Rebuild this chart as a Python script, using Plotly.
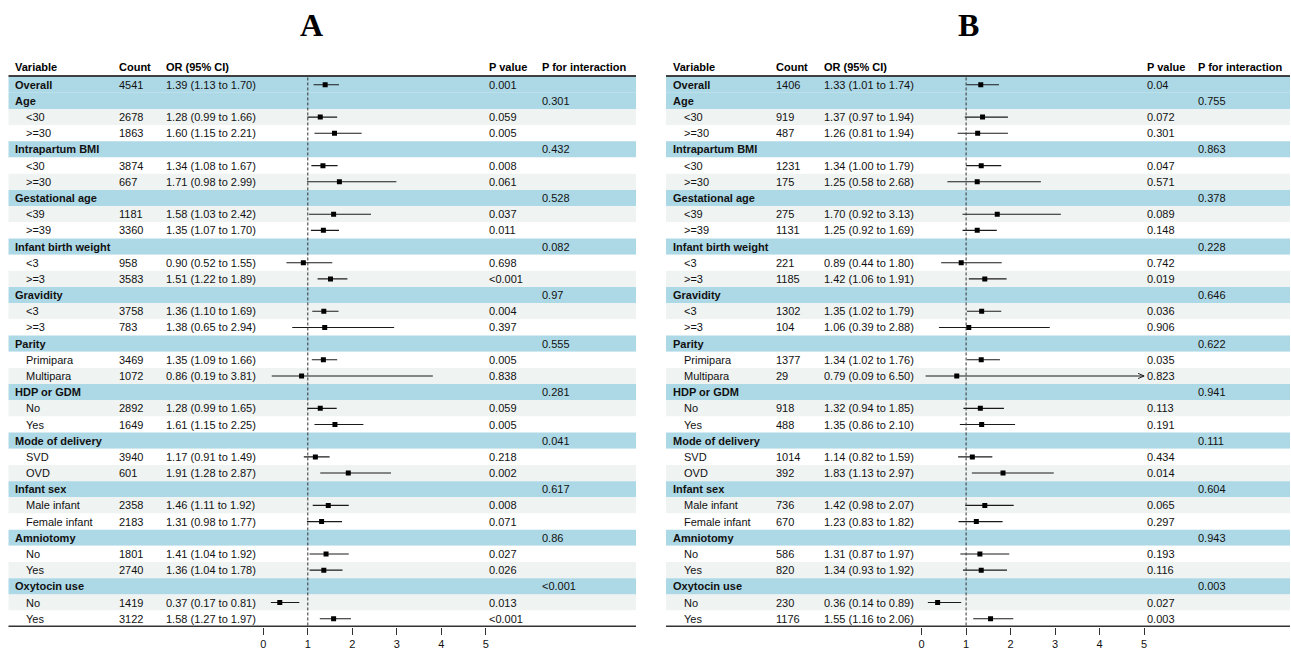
import plotly.graph_objects as go

W, H = 1291, 650

# ---------------- data ----------------
labels = ["Overall", "Age", "<30", ">=30", "Intrapartum BMI", "<30", ">=30",
          "Gestational age", "<39", ">=39", "Infant birth weight", "<3", ">=3",
          "Gravidity", "<3", ">=3", "Parity", "Primipara", "Multipara",
          "HDP or GDM", "No", "Yes", "Mode of delivery", "SVD", "OVD",
          "Infant sex", "Male infant", "Female infant", "Amniotomy", "No", "Yes",
          "Oxytocin use", "No", "Yes"]
group_rows = [0, 1, 4, 7, 10, 13, 16, 19, 22, 25, 28, 31]
headers = ["Variable", "Count", "OR (95% CI)", "P value", "P for interaction"]
tick_vals = [0, 1, 2, 3, 4, 5]
panel_titles = ["A", "B"]

count_A = [4541, None, 2678, 1863, None, 3874, 667, None, 1181, 3360, None, 958, 3583,
           None, 3758, 783, None, 3469, 1072, None, 2892, 1649, None, 3940, 601,
           None, 2358, 2183, None, 1801, 2740, None, 1419, 3122]
or_A = [1.39, None, 1.28, 1.60, None, 1.34, 1.71, None, 1.58, 1.35, None, 0.90, 1.51,
        None, 1.36, 1.38, None, 1.35, 0.86, None, 1.28, 1.61, None, 1.17, 1.91,
        None, 1.46, 1.31, None, 1.41, 1.36, None, 0.37, 1.58]
lo_A = [1.13, None, 0.99, 1.15, None, 1.08, 0.98, None, 1.03, 1.07, None, 0.52, 1.22,
        None, 1.10, 0.65, None, 1.09, 0.19, None, 0.99, 1.15, None, 0.91, 1.28,
        None, 1.11, 0.98, None, 1.04, 1.04, None, 0.17, 1.27]
hi_A = [1.70, None, 1.66, 2.21, None, 1.67, 2.99, None, 2.42, 1.70, None, 1.55, 1.89,
        None, 1.69, 2.94, None, 1.66, 3.81, None, 1.65, 2.25, None, 1.49, 2.87,
        None, 1.92, 1.77, None, 1.92, 1.78, None, 0.81, 1.97]
p_A = ["0.001", "", "0.059", "0.005", "", "0.008", "0.061", "", "0.037", "0.011", "",
       "0.698", "<0.001", "", "0.004", "0.397", "", "0.005", "0.838", "", "0.059",
       "0.005", "", "0.218", "0.002", "", "0.008", "0.071", "", "0.027", "0.026", "",
       "0.013", "<0.001"]
pint_A = ["", "0.301", "", "", "0.432", "", "", "0.528", "", "", "0.082", "", "",
          "0.97", "", "", "0.555", "", "", "0.281", "", "", "0.041", "", "", "0.617",
          "", "", "0.86", "", "", "<0.001", "", ""]

count_B = [1406, None, 919, 487, None, 1231, 175, None, 275, 1131, None, 221, 1185,
           None, 1302, 104, None, 1377, 29, None, 918, 488, None, 1014, 392,
           None, 736, 670, None, 586, 820, None, 230, 1176]
or_B = [1.33, None, 1.37, 1.26, None, 1.34, 1.25, None, 1.70, 1.25, None, 0.89, 1.42,
        None, 1.35, 1.06, None, 1.34, 0.79, None, 1.32, 1.35, None, 1.14, 1.83,
        None, 1.42, 1.23, None, 1.31, 1.34, None, 0.36, 1.55]
lo_B = [1.01, None, 0.97, 0.81, None, 1.00, 0.58, None, 0.92, 0.92, None, 0.44, 1.06,
        None, 1.02, 0.39, None, 1.02, 0.09, None, 0.94, 0.86, None, 0.82, 1.13,
        None, 0.98, 0.83, None, 0.87, 0.93, None, 0.14, 1.16]
hi_B = [1.74, None, 1.94, 1.94, None, 1.79, 2.68, None, 3.13, 1.69, None, 1.80, 1.91,
        None, 1.79, 2.88, None, 1.76, 6.50, None, 1.85, 2.10, None, 1.59, 2.97,
        None, 2.07, 1.82, None, 1.97, 1.92, None, 0.89, 2.06]
p_B = ["0.04", "", "0.072", "0.301", "", "0.047", "0.571", "", "0.089", "0.148", "",
       "0.742", "0.019", "", "0.036", "0.906", "", "0.035", "0.823", "", "0.113",
       "0.191", "", "0.434", "0.014", "", "0.065", "0.297", "", "0.193", "0.116", "",
       "0.027", "0.003"]
pint_B = ["", "0.755", "", "", "0.863", "", "", "0.378", "", "", "0.228", "", "",
          "0.646", "", "", "0.622", "", "", "0.941", "", "", "0.111", "", "", "0.604",
          "", "", "0.943", "", "", "0.003", "", ""]

# ---------------- layout constants ----------------
FONT = "Liberation Sans, Arial, sans-serif"
FS = 11
BLUE = "#ADD8E6"
GRAY = "#EFF3F2"
ROW0_PX = 85.0
ROW_H = 16.23
AXIS_PX = 629.0
UNIT = 44.5
XMIN, XMAX = -0.4, 5.4
CLIP = 5.0

panels = [
    dict(title_x=311.7, left=8.5, right=636.0, zero=263.3,
         cols=[14, 118, 165, 488, 541], sub=25,
         count=count_A, orv=or_A, lo=lo_A, hi=hi_A, p=p_A, pint=pint_A,
         xa="x", xaxis="xaxis"),
    dict(title_x=968.0, left=666.0, right=1290.0, zero=921.6,
         cols=[672, 775, 823, 1146, 1197], sub=683,
         count=count_B, orv=or_B, lo=lo_B, hi=hi_B, p=p_B, pint=pint_B,
         xa="x2", xaxis="xaxis2"),
]

fig = go.Figure()
shapes = []
annotations = []
n = len(labels)

for k, pn in enumerate(panels):
    L, R = pn["left"] / W, pn["right"] / W
    # row backgrounds
    for i in range(n):
        col = BLUE if i in group_rows else (GRAY if i % 2 == 0 else "white")
        shapes.append(dict(type="rect", xref="paper", yref="y", x0=L, x1=R,
                           y0=i - 0.5, y1=i + 0.5, fillcolor=col,
                           line=dict(width=0), layer="below"))
    # header line and bottom line
    shapes.append(dict(type="line", xref="paper", yref="y", x0=L, x1=R,
                       y0=-0.54, y1=-0.54, line=dict(color="black", width=1.5)))
    shapes.append(dict(type="line", xref="paper", yref="y", x0=L, x1=R,
                       y0=n - 0.5, y1=n - 0.5, line=dict(color="#333333", width=2.5)))
    # reference line
    shapes.append(dict(type="line", xref=pn["xa"], yref="y", x0=1, x1=1,
                       y0=-0.45, y1=n - 0.5,
                       line=dict(color="#333333", width=1, dash="3px,2px")))

    # title
    annotations.append(dict(text="<b>%s</b>" % panel_titles[k], xref="paper", yref="paper",
                            x=pn["title_x"] / W, y=1 - 25.5 / H, xanchor="center",
                            yanchor="middle", showarrow=False,
                            font=dict(family="Liberation Serif, Times New Roman, serif",
                                      size=32, color="black")))
    # headers
    hy = (67.3 - ROW0_PX) / ROW_H
    for c, h in zip(pn["cols"], headers):
        annotations.append(dict(text="<b>%s</b>" % h, xref="paper", yref="y",
                                x=c / W, y=hy, xanchor="left", yanchor="middle",
                                showarrow=False, borderpad=0,
                                font=dict(family=FONT, size=FS, color="black")))
    # rows
    for i in range(n):
        isg = i in group_rows
        lab = "<b>%s</b>" % labels[i] if isg else labels[i]
        lx = pn["cols"][0] if isg else pn["sub"]
        cells = [(lx, lab)]
        if pn["count"][i] is not None:
            cells.append((pn["cols"][1], str(pn["count"][i])))
            cells.append((pn["cols"][2], "%.2f (%.2f to %.2f)" % (pn["orv"][i], pn["lo"][i], pn["hi"][i])))
        if pn["p"][i]:
            cells.append((pn["cols"][3], pn["p"][i]))
        if pn["pint"][i]:
            cells.append((pn["cols"][4], pn["pint"][i]))
        for cx, t in cells:
            annotations.append(dict(text=t, xref="paper", yref="y", x=cx / W, y=i,
                                    xanchor="left", yanchor="middle", showarrow=False,
                                    borderpad=0,
                                    font=dict(family=FONT, size=FS, color="#111111")))

    # CI lines (with truncation arrows)
    lx_, ly_ = [], []
    ax_, ay_ = [], []
    mx, my = [], []
    for i in range(n):
        if pn["orv"][i] is None:
            continue
        lo, hi = pn["lo"][i], pn["hi"][i]
        hi_c = min(hi, CLIP)
        lx_ += [lo, hi_c, None]
        ly_ += [i, i, None]
        if hi > CLIP:
            dx = 6.0 / UNIT
            dy = 2.6 / ROW_H
            ax_ += [CLIP - dx, CLIP, CLIP - dx, None]
            ay_ += [i - dy, i, i + dy, None]
        mx.append(pn["orv"][i])
        my.append(i)
    fig.add_trace(go.Scatter(x=lx_, y=ly_, mode="lines", xaxis=pn["xa"], yaxis="y",
                             line=dict(color="#1a1a1a", width=1.1), showlegend=False,
                             hoverinfo="skip"))
    if ax_:
        fig.add_trace(go.Scatter(x=ax_, y=ay_, mode="lines", xaxis=pn["xa"], yaxis="y",
                                 line=dict(color="#1a1a1a", width=1), showlegend=False,
                                 hoverinfo="skip"))
    fig.add_trace(go.Scatter(x=mx, y=my, mode="markers", xaxis=pn["xa"], yaxis="y",
                             marker=dict(symbol="square", size=5, color="black",
                                         line=dict(width=0)),
                             showlegend=False, hoverinfo="skip"))

ybot = (AXIS_PX - ROW0_PX) / ROW_H
ytop = (0 - ROW0_PX) / ROW_H

layout = dict(
    width=W, height=H,
    margin=dict(l=0, r=0, t=0, b=0),
    paper_bgcolor="white", plot_bgcolor="rgba(0,0,0,0)",
    showlegend=False,
    shapes=shapes, annotations=annotations,
    yaxis=dict(domain=[(H - AXIS_PX) / H, 1], range=[ybot, ytop], visible=False,
               showgrid=False, zeroline=False, fixedrange=True),
)
for pn in panels:
    x0px = pn["zero"] + XMIN * UNIT
    x1px = pn["zero"] + XMAX * UNIT
    layout[pn["xaxis"]] = dict(
        domain=[x0px / W, x1px / W], range=[XMIN, XMAX], anchor="y",
        tickvals=tick_vals, ticktext=[str(v) for v in tick_vals],
        ticks="outside", ticklen=7, tickwidth=1, tickcolor="#333333",
        showline=False, showgrid=False, zeroline=False,
        tickfont=dict(family=FONT, size=11, color="#111111"),
        fixedrange=True,
    )
fig.update_layout(**layout)

fig.write_html("out.html")
